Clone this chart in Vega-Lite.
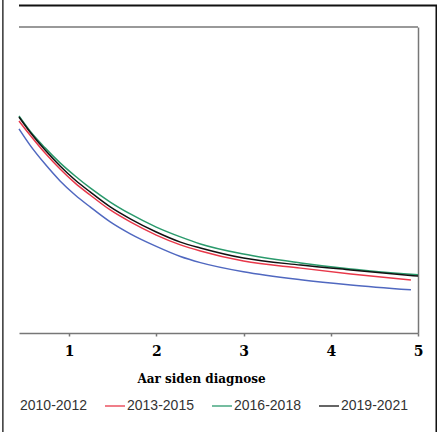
{
  "$schema": "https://vega.github.io/schema/vega-lite/v6.json",
  "width": 399,
  "height": 306,
  "autosize": {"type": "none"},
  "padding": {"left": 19, "top": 27, "right": 19, "bottom": 99},
  "background": "white",
  "config": {"view": {"stroke": null}},
  "layer": [
    {
      "data": {"values": [
        {"period": "2010-2012", "t": 0.425, "v": 0.667},
        {"period": "2010-2012", "t": 0.551, "v": 0.614},
        {"period": "2010-2012", "t": 0.724, "v": 0.552},
        {"period": "2010-2012", "t": 0.896, "v": 0.497},
        {"period": "2010-2012", "t": 1.069, "v": 0.451},
        {"period": "2010-2012", "t": 1.241, "v": 0.412},
        {"period": "2010-2012", "t": 1.471, "v": 0.363},
        {"period": "2010-2012", "t": 1.701, "v": 0.324},
        {"period": "2010-2012", "t": 1.999, "v": 0.283},
        {"period": "2010-2012", "t": 2.276, "v": 0.250},
        {"period": "2010-2012", "t": 2.505, "v": 0.230},
        {"period": "2010-2012", "t": 2.999, "v": 0.200},
        {"period": "2010-2012", "t": 3.655, "v": 0.174},
        {"period": "2010-2012", "t": 4.230, "v": 0.157},
        {"period": "2010-2012", "t": 4.919, "v": 0.141},
        {"period": "2013-2015", "t": 0.425, "v": 0.693},
        {"period": "2013-2015", "t": 0.551, "v": 0.647},
        {"period": "2013-2015", "t": 0.724, "v": 0.588},
        {"period": "2013-2015", "t": 0.896, "v": 0.536},
        {"period": "2013-2015", "t": 1.069, "v": 0.490},
        {"period": "2013-2015", "t": 1.241, "v": 0.451},
        {"period": "2013-2015", "t": 1.471, "v": 0.402},
        {"period": "2013-2015", "t": 1.701, "v": 0.363},
        {"period": "2013-2015", "t": 1.999, "v": 0.320},
        {"period": "2013-2015", "t": 2.276, "v": 0.288},
        {"period": "2013-2015", "t": 2.505, "v": 0.268},
        {"period": "2013-2015", "t": 2.999, "v": 0.235},
        {"period": "2013-2015", "t": 3.655, "v": 0.212},
        {"period": "2013-2015", "t": 4.230, "v": 0.193},
        {"period": "2013-2015", "t": 4.919, "v": 0.173},
        {"period": "2016-2018", "t": 0.425, "v": 0.709},
        {"period": "2016-2018", "t": 0.551, "v": 0.660},
        {"period": "2016-2018", "t": 0.724, "v": 0.605},
        {"period": "2016-2018", "t": 0.896, "v": 0.556},
        {"period": "2016-2018", "t": 1.069, "v": 0.513},
        {"period": "2016-2018", "t": 1.241, "v": 0.474},
        {"period": "2016-2018", "t": 1.471, "v": 0.428},
        {"period": "2016-2018", "t": 1.701, "v": 0.389},
        {"period": "2016-2018", "t": 1.999, "v": 0.346},
        {"period": "2016-2018", "t": 2.276, "v": 0.314},
        {"period": "2016-2018", "t": 2.505, "v": 0.291},
        {"period": "2016-2018", "t": 2.999, "v": 0.258},
        {"period": "2016-2018", "t": 3.655, "v": 0.229},
        {"period": "2016-2018", "t": 4.230, "v": 0.209},
        {"period": "2016-2018", "t": 5.0, "v": 0.190},
        {"period": "2019-2021", "t": 0.425, "v": 0.706},
        {"period": "2019-2021", "t": 0.551, "v": 0.657},
        {"period": "2019-2021", "t": 0.724, "v": 0.598},
        {"period": "2019-2021", "t": 0.896, "v": 0.546},
        {"period": "2019-2021", "t": 1.069, "v": 0.500},
        {"period": "2019-2021", "t": 1.241, "v": 0.461},
        {"period": "2019-2021", "t": 1.471, "v": 0.412},
        {"period": "2019-2021", "t": 1.701, "v": 0.373},
        {"period": "2019-2021", "t": 1.999, "v": 0.330},
        {"period": "2019-2021", "t": 2.276, "v": 0.297},
        {"period": "2019-2021", "t": 2.505, "v": 0.278},
        {"period": "2019-2021", "t": 2.999, "v": 0.245},
        {"period": "2019-2021", "t": 3.655, "v": 0.222},
        {"period": "2019-2021", "t": 4.230, "v": 0.206},
        {"period": "2019-2021", "t": 5.0, "v": 0.186}
      ]},
      "mark": {"type": "line", "interpolate": "monotone", "strokeWidth": 1.5},
      "encoding": {
        "x": {
          "field": "t", "type": "quantitative",
          "scale": {"domain": [0.425, 5], "nice": false, "zero": false},
          "axis": {
            "values": [1, 2, 3, 4, 5],
            "format": "d",
            "grid": false,
            "domainColor": "#777777", "domainWidth": 1.5,
            "tickColor": "#777777", "tickSize": 3, "tickWidth": 1.5,
            "labelFont": "DejaVu Serif", "labelFontWeight": "bold", "labelFontSize": 14,
            "labelColor": "#000000", "labelPadding": 8, "labelFlush": false,
            "title": "Aar siden diagnose",
            "titleFont": "DejaVu Serif", "titleFontWeight": "bold", "titleFontSize": 12,
            "titleColor": "#000000", "titleX": 182, "titleY": 49,
            "titleAlign": "center", "titleBaseline": "alphabetic"
          }
        },
        "y": {
          "field": "v", "type": "quantitative",
          "scale": {"domain": [0, 1], "nice": false, "zero": false},
          "axis": {
            "orient": "right", "labels": false, "ticks": false, "grid": false,
            "title": null, "domainColor": "#777777", "domainWidth": 1.5
          }
        },
        "color": {
          "field": "period", "type": "nominal",
          "scale": {
            "domain": ["2010-2012", "2013-2015", "2016-2018", "2019-2021"],
            "range": ["#5068c0", "#e8384a", "#2a9a6c", "#111111"]
          },
          "legend": {
            "orient": "none", "legendX": -22, "legendY": 368,
            "direction": "horizontal", "title": null, "padding": 0,
            "symbolType": "stroke", "symbolSize": 400, "symbolStrokeWidth": 1.3,
            "labelFont": "Liberation Sans", "labelFontSize": 14, "labelColor": "#333333",
            "labelOffset": 1, "columnPadding": 15,
            "encode": {"symbols": {"update": {"opacity": {"signal": "datum.value === '2010-2012' ? 0 : 1"}}}}
          }
        }
      }
    },
    {
      "data": {"values": [{}]},
      "mark": {"type": "rule", "color": "#777777", "strokeWidth": 1.5},
      "encoding": {"y": {"datum": 1}, "x": {"datum": 0.425}, "x2": {"datum": 5}}
    },
    {
      "data": {"values": [{}]},
      "mark": {"type": "rule", "color": "#111111", "strokeWidth": 2},
      "encoding": {"y": {"datum": 1.070}, "x": {"datum": 0.425}, "x2": {"datum": 5.22}}
    },
    {
      "data": {"values": [{}]},
      "mark": {"type": "rule", "color": "#111111", "strokeWidth": 2},
      "encoding": {"x": {"datum": 5.212}, "y": {"datum": 1.070}, "y2": {"datum": -0.35}}
    },
    {
      "data": {"values": [{}]},
      "mark": {"type": "rule", "color": "#333333", "strokeWidth": 1.5},
      "encoding": {"x": {"datum": 0.24}, "y": {"datum": 1.1}, "y2": {"datum": -0.35}}
    }
  ]
}
